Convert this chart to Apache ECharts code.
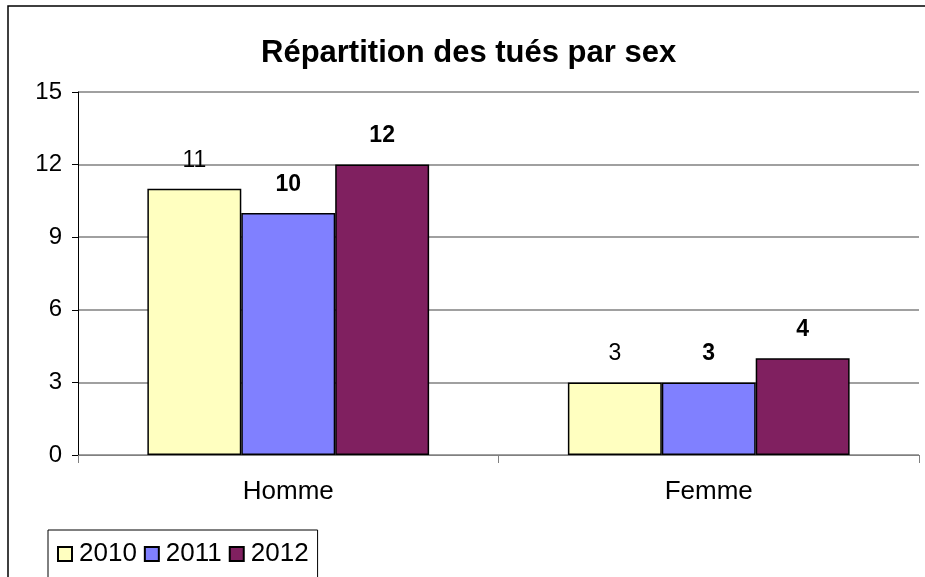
<!DOCTYPE html>
<html>
<head>
<meta charset="utf-8">
<script src="https://cdn.jsdelivr.net/npm/echarts@6/dist/echarts.min.js"></script>
<style>
  html, body { margin: 0; padding: 0; background: #fff; }
  #chart { width: 925px; height: 577px; }
</style>
</head>
<body>
<div id="chart"></div>
<script>
// données
const categories = ["Homme", "Femme"];
const years = ["2010", "2011", "2012"];
const values2010 = [11, 3];
const values2011 = [10, 3];
const values2012 = [12, 4];
const yTicks = [0, 3, 6, 9, 12, 15];

const colors = ["#FFFFC0", "#8080FF", "#802060"];
const font = "'Liberation Sans', Arial, sans-serif";

const chart = echarts.init(document.getElementById("chart"));

function makeSeries(name, data, color, bold) {
  return {
    name: name,
    type: "bar",
    data: data,
    barGap: "0%",
    barCategoryGap: "33%",
    itemStyle: { color: color, borderColor: "#000", borderWidth: 1.5 },
    label: {
      show: true,
      position: "top",
      distance: 17,
      fontSize: 23,
      fontFamily: font,
      fontWeight: bold ? "bold" : "normal",
      color: "#000",
    },
  };
}

const option = {
  animation: false,
  backgroundColor: "#fff",
  title: {
    text: "Répartition des tués par sex",
    left: 256,
    top: 33,
    textStyle: { fontSize: 31, fontWeight: "bold", fontFamily: font, color: "#000" },
  },
  graphic: [
    {
      type: "polyline",
      shape: { points: [[8, 577], [8, 6], [925, 6]] },
      style: { stroke: "#000", lineWidth: 1.5, fill: null },
    },
  ],
  legend: {
    data: years,
    left: 48,
    top: 530,
    padding: [11, 9, 14, 9],
    borderColor: "#000",
    borderWidth: 1,
    itemWidth: 14,
    itemHeight: 14,
    itemGap: 7,
    icon: "rect",
    textStyle: { fontSize: 26, fontFamily: font, color: "#000", padding: [0, 0, 0, 2] },
  },
  grid: { left: 78, right: 6, top: 92, bottom: 122 },
  xAxis: {
    type: "category",
    data: categories,
    axisLine: { lineStyle: { color: "#808080", width: 1 } },
    axisTick: { show: true, length: 8, lineStyle: { color: "#808080" } },
    axisLabel: { fontSize: 26, fontFamily: font, color: "#000", margin: 24 },
  },
  yAxis: {
    type: "value",
    min: yTicks[0],
    max: yTicks[yTicks.length - 1],
    interval: 3,
    axisLine: { show: true, lineStyle: { color: "#000", width: 1 } },
    axisTick: { show: true, length: 6, lineStyle: { color: "#000" } },
    axisLabel: { fontSize: 24, fontFamily: font, color: "#000", margin: 16 },
    splitLine: { lineStyle: { color: "#808080", width: 1.5 } },
  },
  series: [
    makeSeries(years[0], values2010, colors[0], false),
    makeSeries(years[1], values2011, colors[1], true),
    makeSeries(years[2], values2012, colors[2], true),
  ],
};

chart.setOption(option);
</script>
</body>
</html>
